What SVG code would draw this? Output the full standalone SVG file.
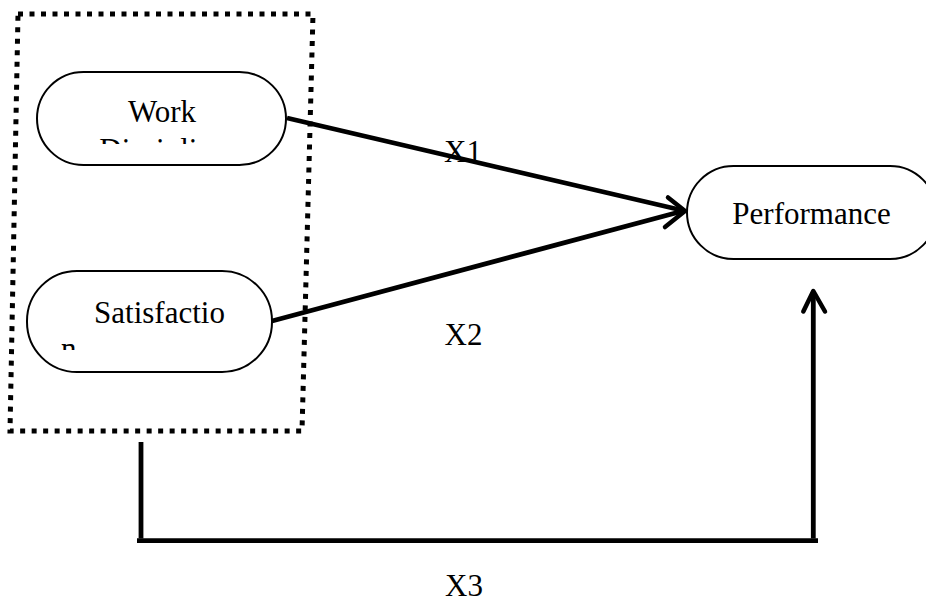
<svg xmlns="http://www.w3.org/2000/svg" width="926" height="604" viewBox="0 0 926 604">
  <style>
    .pill { fill: #ffffff; stroke: #000000; stroke-width: 2; }
    .lbl { font-family: "Liberation Serif", "Times New Roman", serif; font-size: 31px; fill: #000000; }
    .conn { stroke: #000000; stroke-width: 4.8; fill: none; }
    .head { stroke: #000000; stroke-width: 4.5; fill: none; stroke-linecap: round; stroke-linejoin: round; }
    .dots { stroke: #000000; stroke-width: 5; fill: none; stroke-dasharray: 5 6.5; }
  </style>
  <defs>
    <clipPath id="clipWork"><rect x="37" y="72" width="249" height="72"/></clipPath>
    <clipPath id="clipSat"><rect x="27" y="271" width="245" height="79"/></clipPath>
  </defs>
  <rect width="926" height="604" fill="#ffffff"/>

  <g id="group-box">
    <path class="dots" d="M18,14 L313,14 L302,431 L10,431 Z"/>
  </g>

  <g id="labels">
    <text class="lbl" x="463" y="162" text-anchor="middle">X1</text>
    <text class="lbl" x="463.5" y="345" text-anchor="middle">X2</text>
    <text class="lbl" x="464" y="596" text-anchor="middle">X3</text>
  </g>

  <g id="work-discipline">
    <rect class="pill" x="37" y="72" width="249" height="93" rx="46.5" ry="46.5"/>
    <g clip-path="url(#clipWork)">
      <text class="lbl" x="162" y="122" text-anchor="middle">Work</text>
      <text class="lbl" x="163" y="160" text-anchor="middle">Discipline</text>
    </g>
  </g>

  <g id="satisfaction">
    <rect class="pill" x="27" y="271" width="245" height="101" rx="50" ry="50"/>
    <g clip-path="url(#clipSat)">
      <text class="lbl" x="159.5" y="323" text-anchor="middle">Satisfactio</text>
      <text class="lbl" x="61" y="359">n</text>
    </g>
  </g>

  <g id="performance">
    <rect class="pill" x="687" y="166" width="249.5" height="93" rx="46.5" ry="46.5"/>
    <text class="lbl" x="811.5" y="224" text-anchor="middle">Performance</text>
  </g>

  <g id="connectors">
    <line class="conn" x1="287" y1="118" x2="683" y2="210.5"/>
    <line class="conn" x1="272" y1="321" x2="683" y2="211"/>
    <polyline class="head" points="668,197.5 685,211 665,227"/>
    <polyline class="conn" points="141,442 141,538.5"/>
    <line class="conn" x1="137" y1="540.7" x2="818" y2="540.7"/>
    <line class="conn" x1="813.3" y1="538.5" x2="813.3" y2="292"/>
    <polyline class="head" points="803.3,311.5 813.3,291 825,311.5"/>
  </g>
</svg>
